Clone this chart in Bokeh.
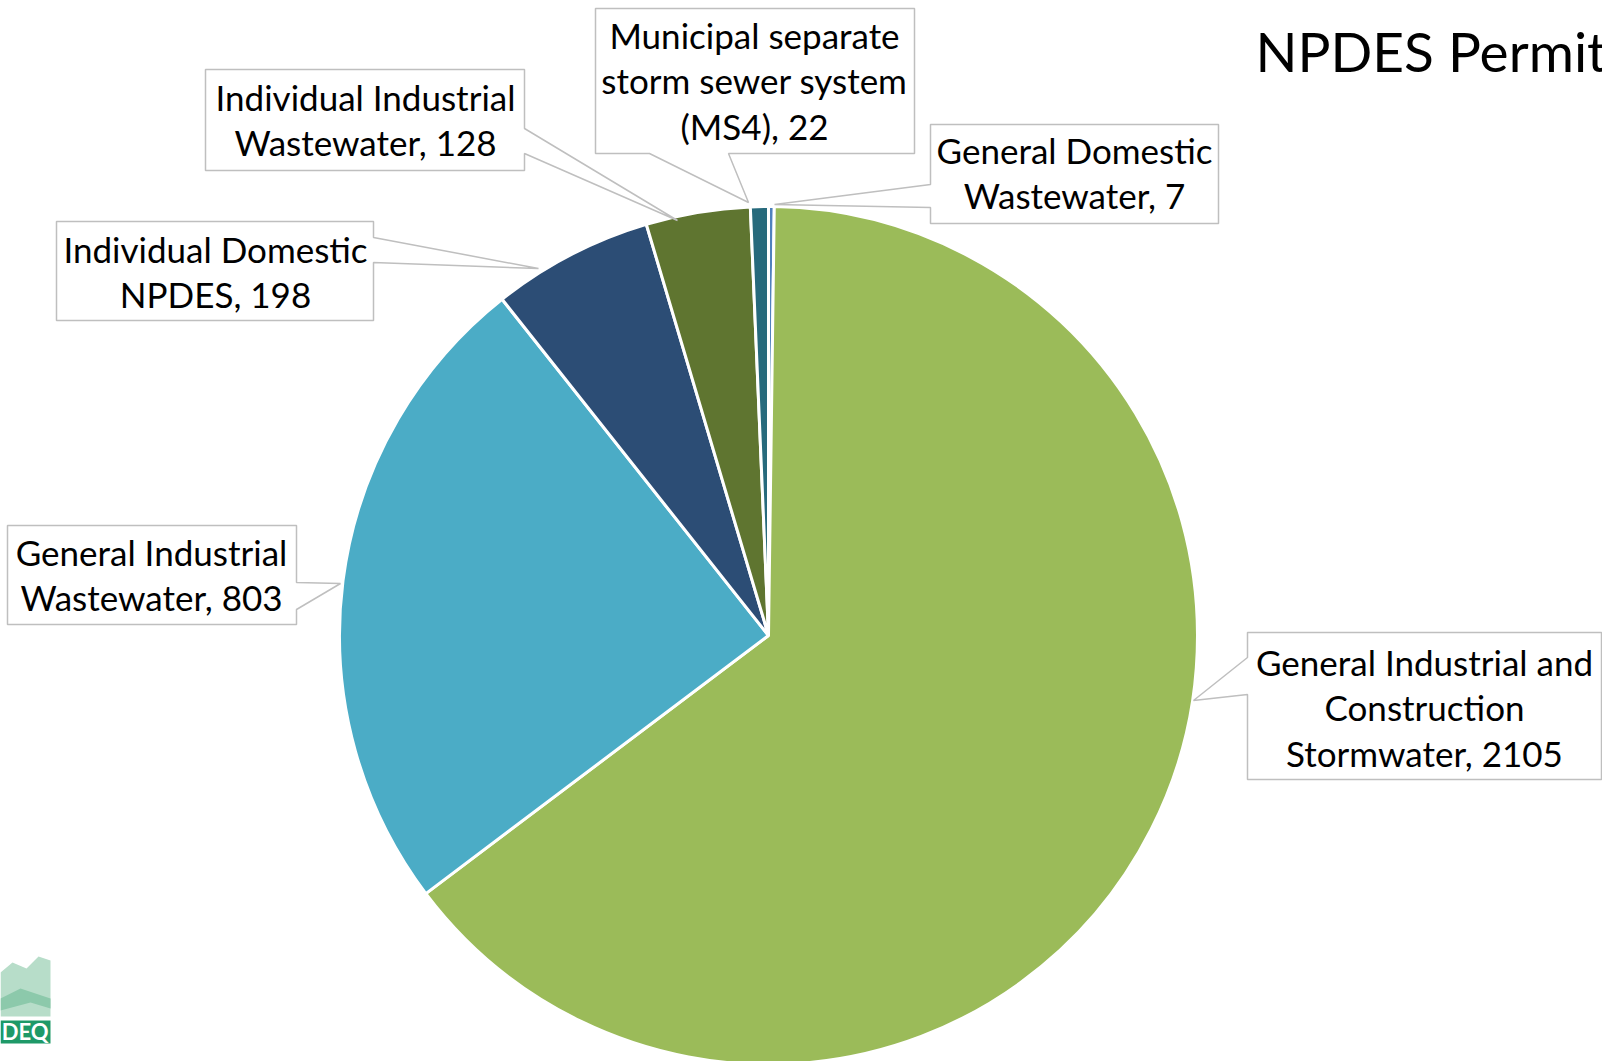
import numpy as np
import textwrap
from bokeh.plotting import figure
from bokeh.models import Range1d
from bokeh.embed import file_html
from bokeh.resources import INLINE
from bokeh.core.properties import value

# ---- data ----
categories = [
    "General Domestic Wastewater",
    "General Industrial and Construction Stormwater",
    "General Industrial Wastewater",
    "Individual Domestic NPDES",
    "Individual Industrial Wastewater",
    "Municipal separate storm sewer system (MS4)",
]
counts = [7, 2105, 803, 198, 128, 22]
colors = ["#4F81BD", "#9BBB59", "#4BACC6", "#2C4D75", "#5F7530", "#276A7C"]
title_text = "NPDES Permits"

# ---- layout (reference pixel coordinates, y downwards) ----
W, H = 1602, 1061


def Y(y):
    return H - y


p = figure(width=W, height=H, x_range=Range1d(0, W), y_range=Range1d(0, H),
           output_backend="svg", toolbar_location=None, min_border=0)
p.axis.visible = False
p.grid.visible = False
p.outline_line_color = None
p.background_fill_color = "white"
p.border_fill_color = "white"

# ---- pie ----
cx, cy, r = 768, 635, 429
total = float(sum(counts))
cum = np.cumsum([0] + counts)
start = np.pi / 2 - 2 * np.pi * cum[:-1] / total
end = np.pi / 2 - 2 * np.pi * cum[1:] / total
p.wedge(x=cx, y=Y(cy), radius=r, start_angle=start, end_angle=end,
        direction="clock", fill_color=colors, line_color="white", line_width=3)

# ---- callout boxes ----
wrap_widths = [16, 22, 18, 19, 21, 20]
boxes = [
    [(930, 124), (1218, 124), (1218, 223), (930, 223), (930, 207), (774, 204), (930, 184)],
    [(1247, 632), (1601, 632), (1601, 779), (1247, 779), (1247, 694), (1193, 700), (1247, 657)],
    [(7, 525), (296, 525), (296, 582), (340, 583), (296, 609), (296, 624), (7, 624)],
    [(56, 221), (373, 221), (373, 237), (538, 268), (373, 262), (373, 320), (56, 320)],
    [(205, 69), (524, 69), (524, 128), (677, 220), (524, 153), (524, 170), (205, 170)],
    [(595, 8), (914, 8), (914, 153), (728, 153), (748, 202), (649, 153), (595, 153)],
]
text_pos = [(1074, 163), (1424, 675), (151, 565), (215, 262), (365, 110), (754, 48)]
line_gap = 45.5
fs = 35
shift = 0.39 * fs

p.patches(xs=[[pt[0] for pt in b] for b in boxes],
          ys=[[Y(pt[1]) for pt in b] for b in boxes],
          fill_color="white", line_color="#BFBFBF", line_width=1.5)

tx, ty, tt = [], [], []
for cat, cnt, ww, (x0, y0) in zip(categories, counts, wrap_widths, text_pos):
    lines = textwrap.wrap(f"{cat}, {cnt}", ww)
    for i, ln in enumerate(lines):
        tx.append(x0)
        ty.append(Y(y0 + i * line_gap - shift))
        tt.append(ln)
p.text(x=tx, y=ty, text=tt, text_font=value("Lato"), text_font_size=f"{fs}px",
       text_align="center", text_baseline="alphabetic", text_color="black")

# ---- title ----
tfs = 55
p.text(x=[1255], y=[Y(72 - 0.39 * tfs)], text=[title_text], text_font=value("Lato"),
       text_font_size=f"{tfs}px", text_align="left", text_baseline="alphabetic",
       text_color="black")

# ---- logo (approximate) ----
p.patch(x=[0, 12, 26, 38, 50, 50, 0], y=[Y(972), Y(962), Y(968), Y(956), Y(960), Y(1016), Y(1016)],
        fill_color="#B7DDC9", line_color=None)
p.patch(x=[0, 20, 50, 50, 30, 0], y=[Y(998), Y(988), Y(998), Y(1008), Y(1002), Y(1010)],
        fill_color="#8CC9AB", line_color=None)
p.quad(left=[0], right=[50], top=[Y(1020)], bottom=[Y(1043)], fill_color="#1E9968", line_color=None)
p.text(x=[48], y=[Y(1040 - 0.39 * 22)], text=["DEQ"], text_font=value("Lato"), text_font_style="bold",
       text_font_size="22px", text_align="right", text_baseline="alphabetic", text_color="white")

open("out.html", "w").write(file_html(p, INLINE))
